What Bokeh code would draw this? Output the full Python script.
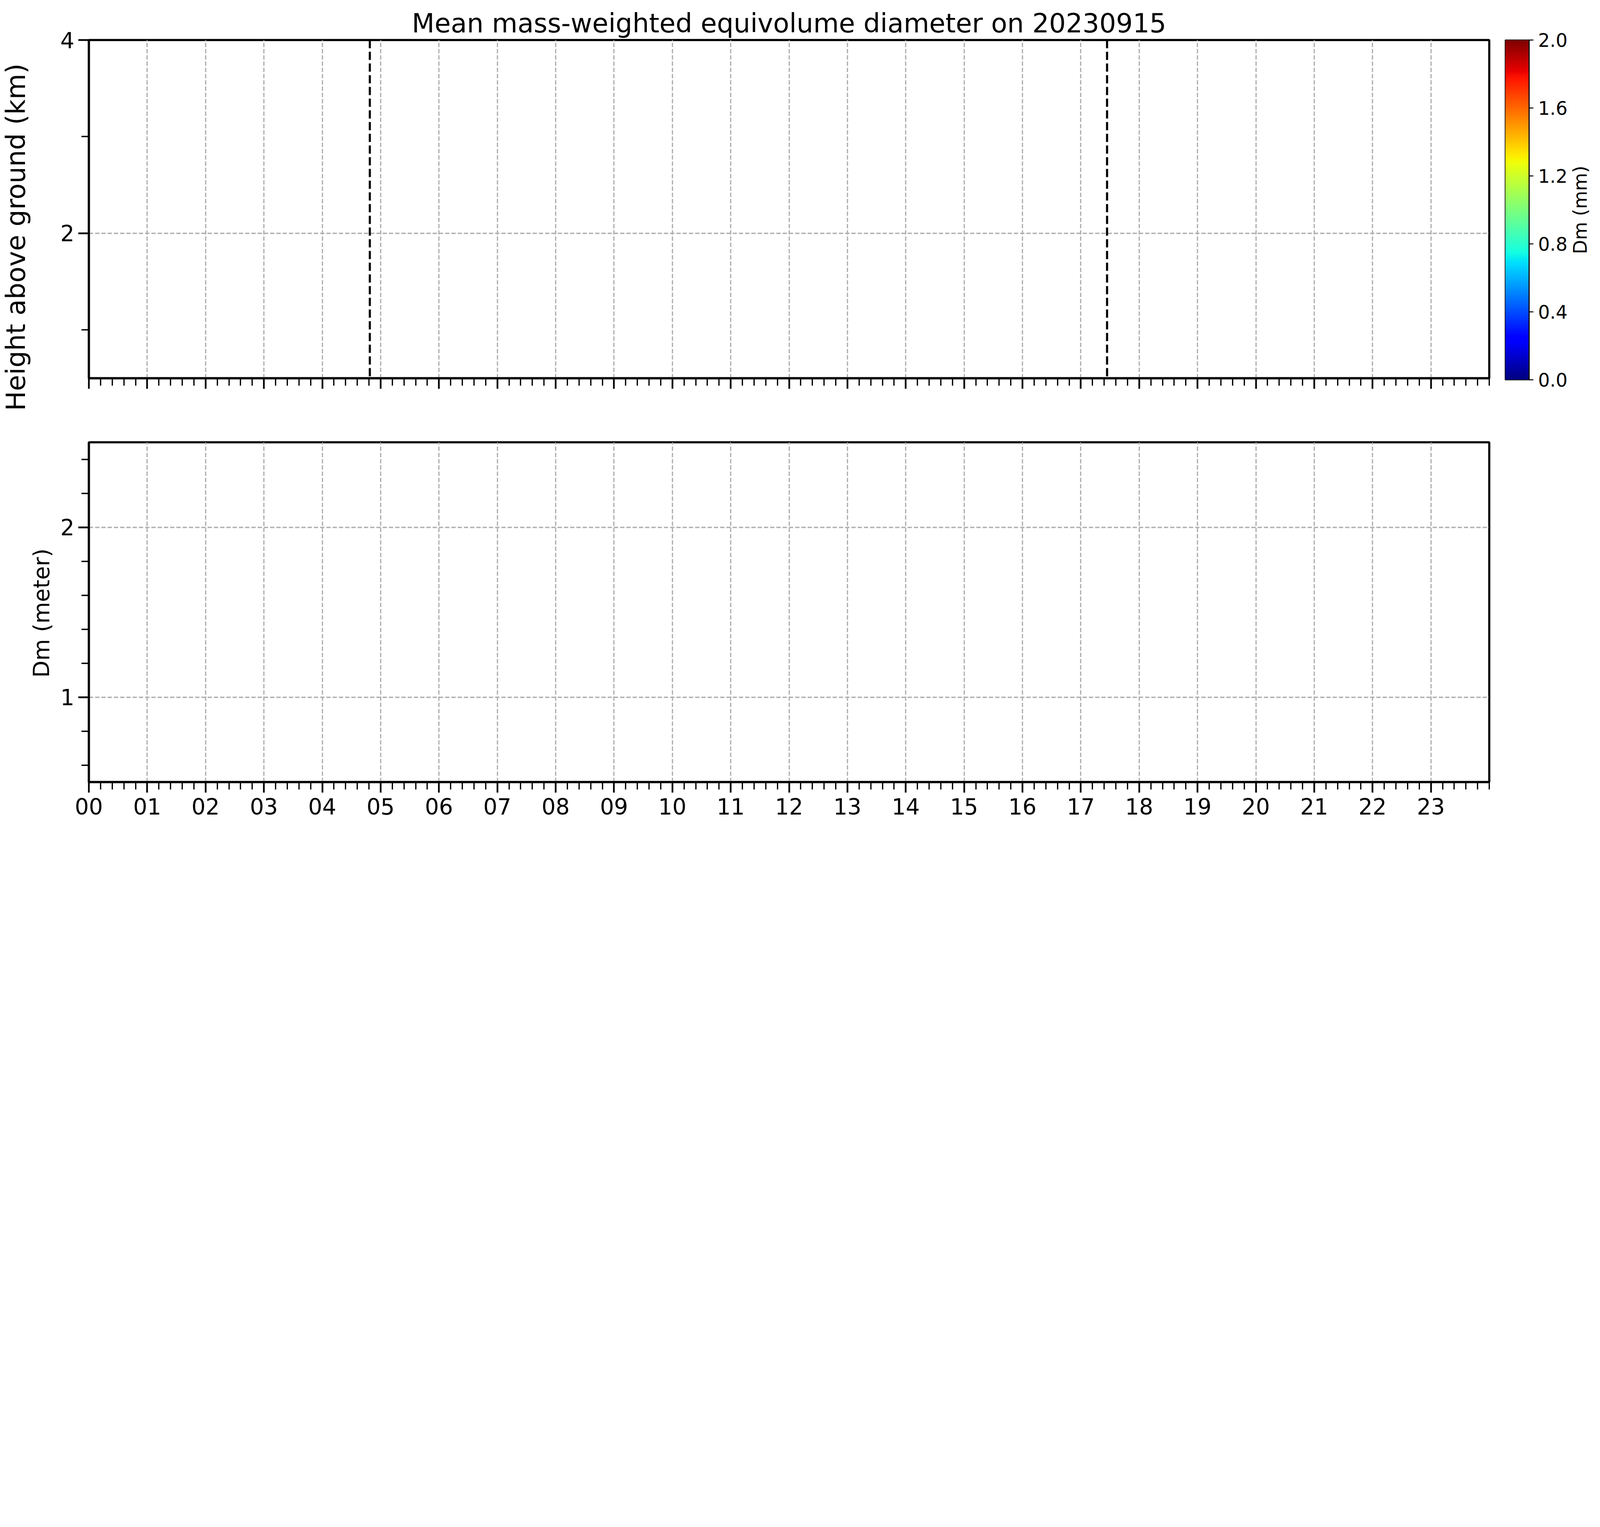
import numpy as np
from bokeh.plotting import figure
from bokeh.models import (Range1d, FixedTicker, CustomJSTickFormatter, PrintfTickFormatter,
                          Span, LinearColorMapper)
from bokeh.core.properties import value
from bokeh.layouts import column, row
from bokeh.embed import file_html
from bokeh.resources import INLINE
from math import pi

# ---------------- data ----------------
title_text = "Mean mass-weighted equivolume diameter on 20230915"
height_label = "Height above ground (km)"
dm_label = "Dm (meter)"
cbar_label = "Dm (mm)"
hours = list(range(24))
hour_labels = [f"{h:02d}" for h in hours]
event_times = [4.815, 17.45]          # hours of the two dashed markers
height_major = [2, 4]
height_minor = [1, 3]
dm_major = [1, 2]
dm_minor = [0.6, 0.8, 1.2, 1.4, 1.6, 1.8, 2.2, 2.4]
cbar_ticks = [0.0, 0.4, 0.8, 1.2, 1.6, 2.0]
cbar_low, cbar_high = 0.0, 2.0
height_range = (0.5, 4.0)
dm_range = (0.5, 2.5)
day_range = (0, 24)

# ---------------- styling ----------------
S = 4096 / 7541      # CSS px per reference px
FONT = "DejaVu Sans"
GRID = "#b0b0b0"


def px(v):
    return int(round(v * S))


def fs(v):
    return f"{v * S:.1f}px"


x_minor = [h + k / 5 for h in range(24) for k in range(1, 5)] + [24.0]


def jet_palette(n=256):
    t = np.linspace(0, 1, n)
    r = np.interp(t, [0, 0.35, 0.66, 0.89, 1], [0, 0, 1, 1, 0.5])
    g = np.interp(t, [0, 0.125, 0.375, 0.64, 0.91, 1], [0, 0, 1, 1, 0, 0])
    b = np.interp(t, [0, 0.11, 0.34, 0.65, 1], [0.5, 1, 1, 0, 0])
    return ["#%02x%02x%02x" % (int(round(rr * 255)), int(round(gg * 255)), int(round(bb * 255)))
            for rr, gg, bb in zip(r, g, b)]


def style_axis(ax, size=104, lw=10, tick_w=8, minor_w=6, tout=49, mout=35):
    ax.axis_line_width = lw * S
    ax.axis_line_color = "black"
    ax.major_tick_line_width = tick_w * S
    ax.minor_tick_line_width = max(minor_w * S, 0.1)
    ax.major_tick_line_color = "black"
    ax.minor_tick_line_color = "black"
    ax.major_tick_out = px(tout)
    ax.major_tick_in = 0
    ax.minor_tick_out = px(mout)
    ax.minor_tick_in = 0
    ax.major_label_text_font = FONT
    ax.major_label_text_font_size = fs(size)
    ax.major_label_text_color = "black"


def style_grid(p):
    for g in (p.xgrid, p.ygrid):
        g.grid_line_color = GRID
        g.grid_line_width = 6 * S
        g.grid_line_dash = f"{px(20)} {px(9)}"


# ---------------- geometry (CSS px) ----------------
WL = 140                      # left strip holding both y titles
ROW1_H = px(2000)
P1_L = px(418) - WL
P1_T = px(187)
P1_FW = px(6600)
P1_FH = px(1782) - P1_T
P1_R = 18
CB_L = px(7094) - (WL + P1_L + P1_FW + P1_R)
CB_T = px(185)
CB_FW = px(113)
CB_FH = px(1785) - CB_T
CB_R = 100
WR = 60
P2_T = px(2085) - ROW1_H
P2_FH = px(3685) - px(2085)
P2_B = 100
TOTAL_H = ROW1_H + P2_T + P2_FH + P2_B

# ---------------- left strip: y titles ----------------
p_left = figure(x_range=Range1d(0, WL), y_range=Range1d(0, TOTAL_H),
                frame_width=WL, frame_height=TOTAL_H, min_border=0,
                x_axis_location=None, y_axis_location=None,
                output_backend="svg", toolbar_location=None)
p_left.grid.visible = False
p_left.outline_line_color = None
ytitle_x = [117 * S - 0.347 * 124 * S, 232 * S - 0.347 * 104 * S]
ytitle_y = [TOTAL_H - 1117 * S, TOTAL_H - 2889 * S]
ytitle_size = [fs(124), fs(104)]
p_left.text(x=ytitle_x, y=ytitle_y, text=[height_label, dm_label],
            angle=pi / 2, text_align="center", text_baseline="middle",
            text_font=value(FONT), text_font_size=ytitle_size, text_color="black")

# ---------------- top panel ----------------
p1 = figure(x_range=Range1d(*day_range), y_range=Range1d(*height_range),
            frame_width=P1_FW, frame_height=P1_FH,
            min_border_left=P1_L, min_border_right=P1_R, min_border_top=P1_T,
            min_border_bottom=ROW1_H - P1_T - P1_FH,
            output_backend="svg", toolbar_location=None)
p1.title.text = title_text
p1.title.align = "center"
p1.title.text_font = FONT
p1.title.text_font_size = fs(124)
p1.title.text_font_style = "normal"
p1.title.text_color = "black"
p1.title.standoff = px(12)
p1.outline_line_color = "black"
p1.outline_line_width = 10 * S

p1.xaxis.ticker = FixedTicker(ticks=hours, minor_ticks=x_minor)
p1.xaxis.formatter = CustomJSTickFormatter(code="return '';")
p1.yaxis.ticker = FixedTicker(ticks=height_major, minor_ticks=height_minor)
style_axis(p1.xaxis[0])
style_axis(p1.yaxis[0])
p1.yaxis.major_label_standoff = px(19)
style_grid(p1)

for t in event_times:
    p1.add_layout(Span(location=t, dimension="height", line_color="black",
                       line_width=10 * S, line_dash=f"{px(38)} {px(17)}"))

# ---------------- colour bar ----------------
mapper = LinearColorMapper(palette=jet_palette(), low=cbar_low, high=cbar_high)
pcb = figure(x_range=Range1d(0, 1), y_range=Range1d(cbar_low, cbar_high),
             frame_width=CB_FW, frame_height=CB_FH,
             min_border_left=CB_L, min_border_right=CB_R, min_border_top=CB_T,
             min_border_bottom=ROW1_H - CB_T - CB_FH,
             x_axis_location=None, y_axis_location="right",
             output_backend="svg", toolbar_location=None)
grad = np.linspace(cbar_low, cbar_high, 256).reshape(256, 1)
pcb.image(image=[grad], x=0, y=cbar_low, dw=1, dh=cbar_high - cbar_low, color_mapper=mapper)
pcb.grid.visible = False
pcb.outline_line_color = "black"
pcb.outline_line_width = 5 * S
pcb.yaxis.ticker = FixedTicker(ticks=cbar_ticks, minor_ticks=[])
pcb.yaxis.formatter = PrintfTickFormatter(format="%.1f")
style_axis(pcb.yaxis[0], size=87, lw=5, tick_w=5, minor_w=0, tout=20, mout=0)
pcb.yaxis.major_label_standoff = px(22)

# ---------------- right strip: colour-bar title ----------------
cb_right_edge = WL + P1_L + P1_FW + P1_R + CB_L + CB_FW + CB_R
p_right = figure(x_range=Range1d(0, WR), y_range=Range1d(cbar_low, cbar_high),
                 frame_width=WR, frame_height=CB_FH,
                 min_border_left=0, min_border_right=0, min_border_top=CB_T,
                 min_border_bottom=ROW1_H - CB_T - CB_FH,
                 x_axis_location=None, y_axis_location=None,
                 output_backend="svg", toolbar_location=None)
p_right.grid.visible = False
p_right.outline_line_color = None
p_right.text(x=[7475 * S - cb_right_edge - 0.347 * 87 * S], y=[(cbar_low + cbar_high) / 2], text=[cbar_label],
             angle=pi / 2, text_align="center", text_baseline="middle",
             text_font=value(FONT), text_font_size=value(fs(87)), text_color="black")

# ---------------- bottom panel ----------------
p2 = figure(x_range=Range1d(*day_range), y_range=Range1d(*dm_range),
            frame_width=P1_FW, frame_height=P2_FH,
            min_border_left=P1_L, min_border_right=P1_R, min_border_top=P2_T, min_border_bottom=P2_B,
            output_backend="svg", toolbar_location=None)
p2.outline_line_color = "black"
p2.outline_line_width = 10 * S
p2.xaxis.ticker = FixedTicker(ticks=hours, minor_ticks=x_minor)
p2.xaxis.formatter = CustomJSTickFormatter(args=dict(labels=hour_labels), code="""
    const i = Math.round(tick);
    return (i >= 0 && i < labels.length) ? labels[i] : '';
""")
p2.yaxis.ticker = FixedTicker(ticks=dm_major, minor_ticks=dm_minor)
style_axis(p2.xaxis[0])
style_axis(p2.yaxis[0])
p2.xaxis.major_label_standoff = px(25)
p2.yaxis.major_label_standoff = px(19)
style_grid(p2)

layout = row(p_left, column(row(p1, pcb, p_right), p2))
open("out.html", "w").write(file_html(layout, INLINE))
